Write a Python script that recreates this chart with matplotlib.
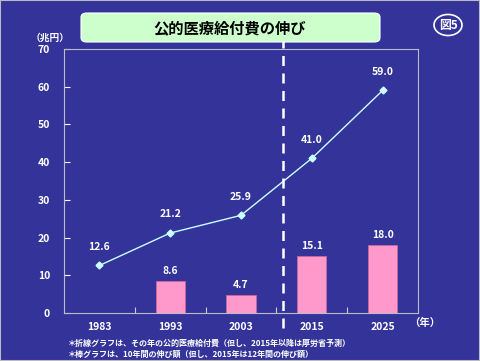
import matplotlib.pyplot as plt
from matplotlib.patches import FancyBboxPatch, Circle

plt.rcParams['font.family'] = ['Noto Sans CJK JP', 'DejaVu Sans']

years = ["1983", "1993", "2003", "2015", "2025"]
spending = [12.6, 21.2, 25.9, 41.0, 59.0]
growth = [None, 8.6, 4.7, 15.1, 18.0]

bg = "#333399"
fig = plt.figure(figsize=(4.8, 3.61), dpi=100, facecolor=bg)
ax = fig.add_axes([64 / 480, 1 - 313 / 361, 354 / 480, 264 / 361])
ax.set_facecolor(bg)

xs = list(range(len(years)))
bx = [x for x, g in zip(xs, growth) if g is not None]
bv = [g for g in growth if g is not None]
ax.bar(bx, bv, width=0.41, color="#ff99cc", edgecolor="#cc6699", linewidth=0.6, zorder=2)
for x, v in zip(bx, bv):
    ax.text(x, v + 1.3, f"{v:.1f}", color="white", fontsize=7.5, fontweight="bold",
            ha="center", va="bottom")

ax.plot(xs, spending, color="#ccffff", lw=1.0, marker="D", ms=3.5, zorder=3)
for x, v in zip(xs, spending):
    ax.text(x, v + 3.6, f"{v:.1f}", color="white", fontsize=7.5, fontweight="bold",
            ha="center", va="bottom")

ax.set_xlim(-0.5, 4.5)
ax.set_ylim(0, 70)
ax.set_yticks(range(0, 71, 10))
ax.set_xticks([0.5, 1.5, 2.5, 3.5], minor=False)
ax.set_xticklabels([])
for x, y in zip(xs, years):
    ax.text(x, -3.8, y, color="white", fontsize=7.5, fontweight="bold", ha="center", va="center")
ax.tick_params(axis="y", colors="white", labelsize=7.5, direction="in", length=4, pad=10)
ax.tick_params(axis="x", colors="#cccccc", direction="in", length=4)
for lab in ax.get_yticklabels():
    lab.set_fontweight("bold")
for s in ax.spines.values():
    s.set_color("#bbbbcc")
    s.set_linewidth(0.8)

# dashed divider
ax.plot([2.6, 2.6], [-4, 72], color="white", lw=1.8, ls=(0, (4, 3)), clip_on=False, zorder=4)

fig.text(50 / 480, 1 - 38 / 361, "（兆円）", color="white", fontsize=7, fontweight="bold",
         ha="center", va="center")
fig.text(425 / 480, 1 - 323 / 361, "（年）", color="white", fontsize=7.5, fontweight="bold",
         ha="center", va="center")

box = FancyBboxPatch((81 / 480, 1 - 42 / 361), 299 / 480, 29 / 361,
                     boxstyle="round,pad=0,rounding_size=0.012", transform=fig.transFigure,
                     facecolor="#ccffcc", edgecolor="white", lw=0.8)
fig.patches.append(box)
fig.text(230 / 480, 1 - 28 / 361, "公的医療給付費の伸び", color="black", fontsize=11,
         fontweight="bold", ha="center", va="center")

circ = Circle((448 / 480, 1 - 25 / 361), 14 / 480, transform=fig.transFigure,
              facecolor="none", edgecolor="white", lw=1.2)
fig.patches.append(circ)
fig.text(448 / 480, 1 - 25 / 361, "図5", color="white", fontsize=8.5, fontweight="bold",
         ha="center", va="center")

fig.text(68 / 480, 1 - 343 / 361, "＊折線グラフは、その年の公的医療給付費（但し、2015年以降は厚労省予測）",
         color="white", fontsize=5.8, fontweight="bold", ha="left", va="center")
fig.text(68 / 480, 1 - 354 / 361, "＊棒グラフは、10年間の伸び額（但し、2015年は12年間の伸び額）",
         color="white", fontsize=5.8, fontweight="bold", ha="left", va="center")

fig.patches.append(plt.Rectangle((0, 0), 1, 1, transform=fig.transFigure, fill=False,
                                 edgecolor="#bbbbbb", lw=1.5))

fig.savefig("out.png", dpi=100, facecolor=bg)
